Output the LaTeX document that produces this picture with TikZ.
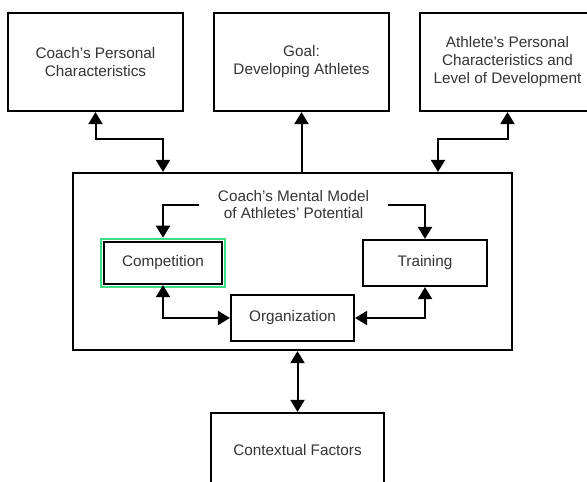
\documentclass[tikz,border=0pt]{standalone}
\usepackage{fontspec}
\setmainfont{Liberation Sans}
\usetikzlibrary{arrows.meta,fit}
\definecolor{txt}{HTML}{333333}
\definecolor{hilite}{HTML}{3FDC86}
\begin{document}
\begin{tikzpicture}[x=1pt,y=-1pt,
  box/.style={draw, line width=2.2pt, rectangle, inner sep=0pt, align=center,
    text=txt, font=\fontsize{15.3}{18}\selectfont},
  link/.style={line width=2pt},
  dbl/.style={link, {Triangle[width=14pt,length=12pt]}-{Triangle[width=14pt,length=12pt]}},
  one/.style={link, -{Triangle[width=14pt,length=12pt]}}]
\useasboundingbox (0,0) rectangle (587,482);
\clip (0,0) rectangle (587,482);

% outer boxes
\node[box, minimum width=175pt, minimum height=98pt] (coach) at (95.5,62)
  {Coach's Personal\\Characteristics};
\node[box, minimum width=175pt, minimum height=98pt] (goal) at (301.5,62)
  {Goal:\\Developing Athletes};
\node[box, minimum width=175pt, minimum height=98pt] (athlete) at (507.5,62)
  {Athlete's Personal\\Characteristics and\\Level of Development};

% central model
\node[box, minimum width=439pt, minimum height=177pt] (model) at (292.5,261.5) {};
\node[text=txt, font=\fontsize{15.3}{17}\selectfont, align=center,
  inner xsep=19pt, inner ysep=0pt] (title) at (293.5,204.5)
  {Coach's Mental Model\\of Athletes' Potential};
\node[box, minimum width=118pt, minimum height=42pt] (comp) at (163,263) {Competition};
\node[box, minimum width=124pt, minimum height=46pt] (train) at (425,263) {Training};
\node[box, minimum width=123pt, minimum height=46pt] (org) at (292.5,318) {Organization};
\node[draw=hilite, line width=2pt, inner sep=2.2pt, fit=(comp)] (sel) {};

% context
\node[box, minimum width=173pt, minimum height=74pt] (context) at (297.5,450)
  {Contextual Factors};

% connectors
\coordinate (kc) at (163,139);
\coordinate (ka) at (438,139);
\draw[dbl] (coach.south) -- (coach.south |- kc) -- (kc) -- (kc |- model.north);
\draw[one] (model.north -| goal.south) -- (goal.south);
\draw[dbl] (athlete.south) -- (athlete.south |- ka) -- (ka) -- (ka |- model.north);

\draw[one] (title.west) -| (sel.north);
\draw[one] (title.east) -| (train.north);
\draw[dbl] (comp.south) |- (org.west);
\draw[dbl] (train.south) |- (org.east);

\draw[dbl] (model.south -| context.north) -- (context.north);
\end{tikzpicture}
\end{document}
